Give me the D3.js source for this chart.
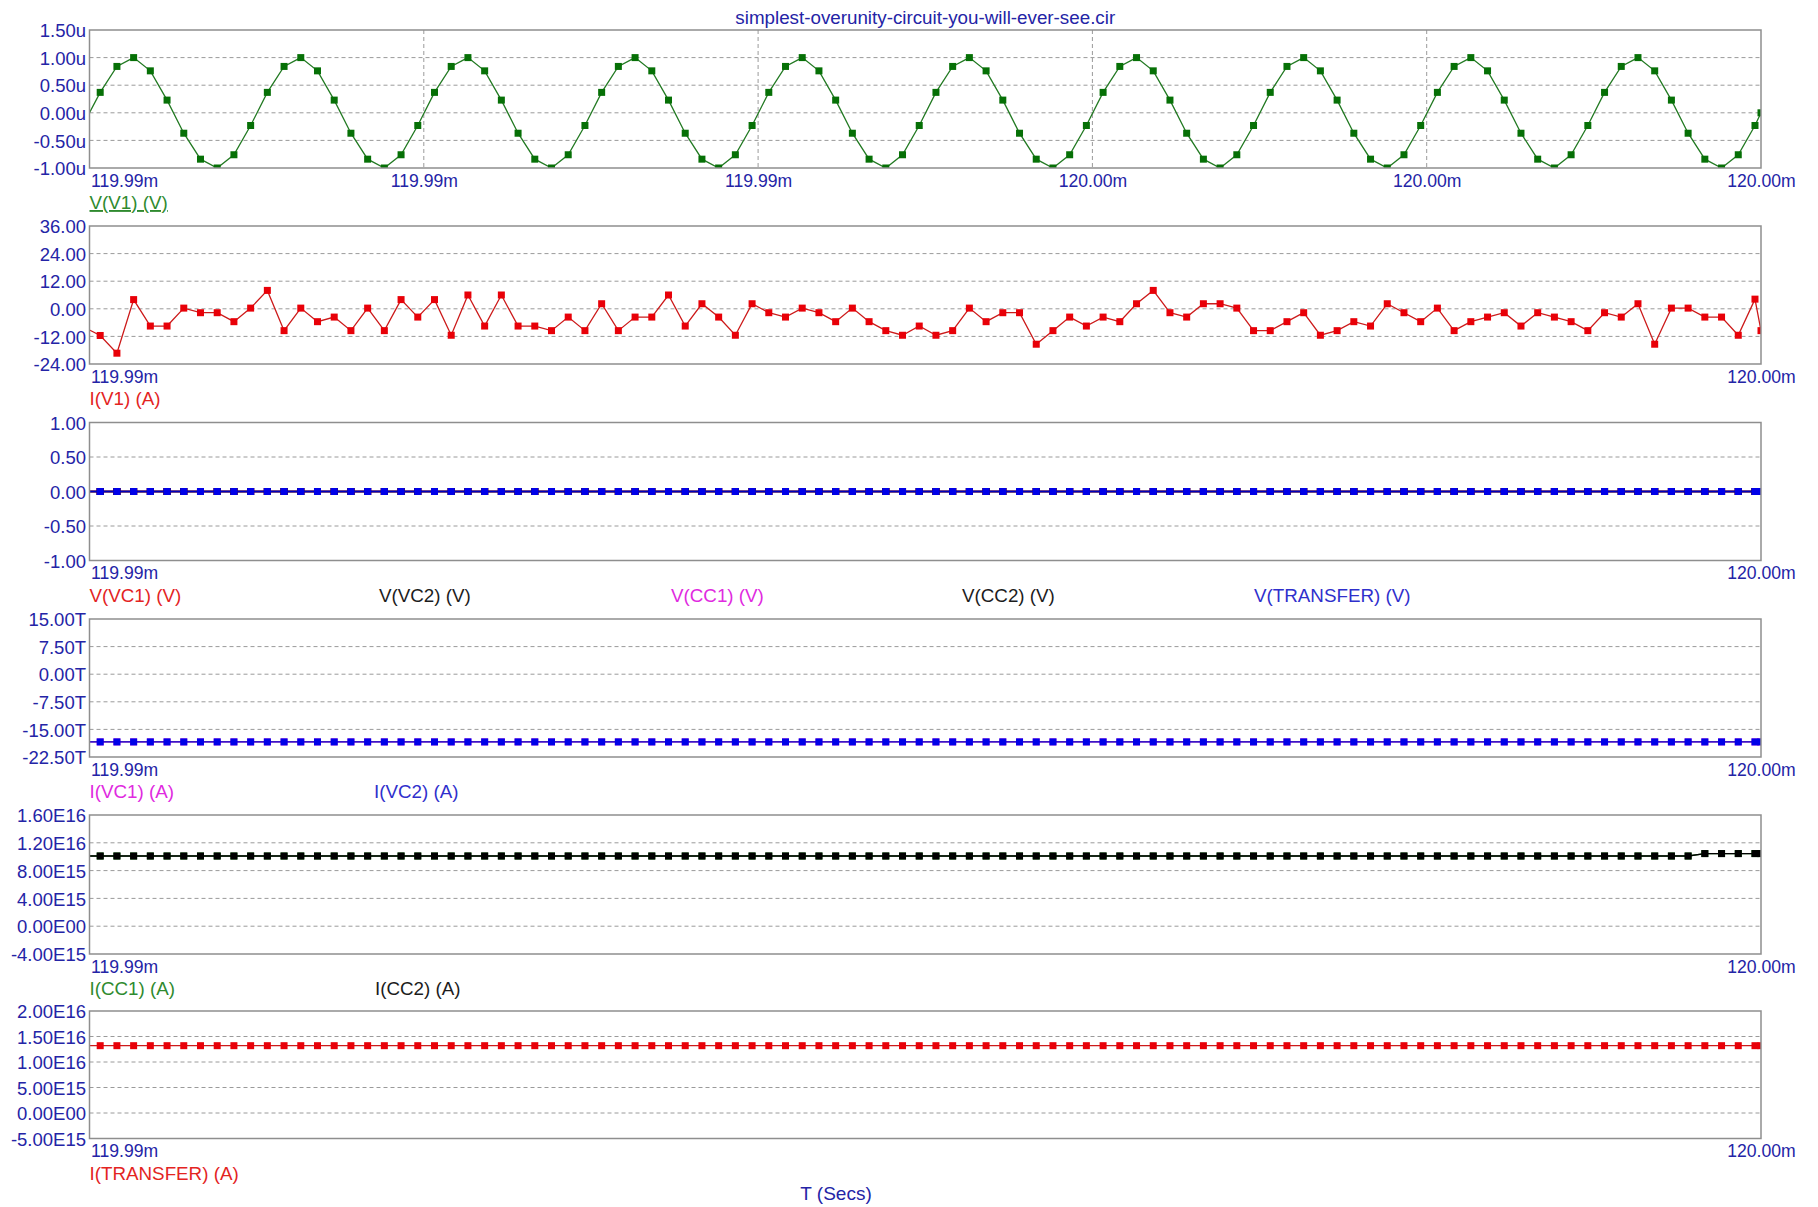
<!DOCTYPE html>
<html>
<head>
<meta charset="utf-8">
<script src="https://cdn.jsdelivr.net/npm/d3@7"></script>
<style>
  html, body { margin: 0; padding: 0; background: #fff; }
  svg { display: block; font-family: "Liberation Sans", Arial, sans-serif; }
</style>
</head>
<body>
<svg id="chart" width="1818" height="1207"></svg>
<script>
// ---------------------------------------------------------------
// Transient analysis window, 119.990 ms .. 120.000 ms
// ---------------------------------------------------------------
const chartTitle = "simplest-overunity-circuit-you-will-ever-see.cir";
const xAxisTitle = "T (Secs)";
const timeStartMs = 119.990;
const timeEndMs = 120.000;
const xTickTimesMs = [119.990, 119.992, 119.994, 119.996, 119.998, 120.000];

// Sample instants, in microseconds after 119.990 ms
const sampleTimesUs = [0,
  0.064, 0.164, 0.264, 0.364, 0.464, 0.564, 0.664, 0.764, 0.864, 0.964,
  1.064, 1.164, 1.264, 1.364, 1.464, 1.564, 1.664, 1.764, 1.864, 1.964,
  2.064, 2.164, 2.264, 2.364, 2.464, 2.564, 2.664, 2.764, 2.864, 2.964,
  3.064, 3.164, 3.264, 3.364, 3.464, 3.564, 3.664, 3.764, 3.864, 3.964,
  4.064, 4.164, 4.264, 4.364, 4.464, 4.564, 4.664, 4.764, 4.864, 4.964,
  5.064, 5.164, 5.264, 5.364, 5.464, 5.564, 5.664, 5.764, 5.864, 5.964,
  6.064, 6.164, 6.264, 6.364, 6.464, 6.564, 6.664, 6.764, 6.864, 6.964,
  7.064, 7.164, 7.264, 7.364, 7.464, 7.564, 7.664, 7.764, 7.864, 7.964,
  8.064, 8.164, 8.264, 8.364, 8.464, 8.564, 8.664, 8.764, 8.864, 8.964,
  9.064, 9.164, 9.264, 9.364, 9.464, 9.564, 9.664, 9.764, 9.864, 9.964,
  10];

// V(V1), microvolts
const vV1 = [0,
  0.37, 0.84, 1.00, 0.76, 0.23, -0.37, -0.84, -1.00, -0.76, -0.23,
  0.37, 0.84, 1.00, 0.76, 0.23, -0.37, -0.84, -1.00, -0.76, -0.23,
  0.37, 0.84, 1.00, 0.76, 0.23, -0.37, -0.84, -1.00, -0.76, -0.23,
  0.37, 0.84, 1.00, 0.76, 0.23, -0.37, -0.84, -1.00, -0.76, -0.23,
  0.37, 0.84, 1.00, 0.76, 0.23, -0.37, -0.84, -1.00, -0.76, -0.23,
  0.37, 0.84, 1.00, 0.76, 0.23, -0.37, -0.84, -1.00, -0.76, -0.23,
  0.37, 0.84, 1.00, 0.76, 0.23, -0.37, -0.84, -1.00, -0.76, -0.23,
  0.37, 0.84, 1.00, 0.76, 0.23, -0.37, -0.84, -1.00, -0.76, -0.23,
  0.37, 0.84, 1.00, 0.76, 0.23, -0.37, -0.84, -1.00, -0.76, -0.23,
  0.37, 0.84, 1.00, 0.76, 0.23, -0.37, -0.84, -1.00, -0.76, -0.23,
  0];

// I(V1), amperes
const iV1 = [-9.2,
  -11.6, -19.3, 4.0, -7.5, -7.5, 0.3, -1.7, -1.7, -5.6, 0.3,
  8.0, -9.5, 0.3, -5.6, -3.6, -9.5, 0.3, -9.5, 4.0, -3.6,
  4.0, -11.5, 6.0, -7.5, 6.0, -7.5, -7.5, -9.5, -3.6, -9.5,
  2.2, -9.5, -3.6, -3.6, 6.0, -7.5, 2.2, -3.6, -11.5, 2.2,
  -1.7, -3.6, 0.3, -1.7, -5.6, 0.3, -5.6, -9.5, -11.5, -7.5,
  -11.5, -9.5, 0.3, -5.6, -1.7, -1.7, -15.4, -9.5, -3.6, -7.5,
  -3.6, -5.6, 2.2, 8.0, -1.7, -3.6, 2.2, 2.2, 0.3, -9.5,
  -9.5, -5.6, -1.7, -11.5, -9.5, -5.6, -7.5, 2.2, -1.7, -5.6,
  0.3, -9.5, -5.6, -3.6, -1.7, -7.5, -1.7, -3.6, -5.6, -9.5,
  -1.7, -3.6, 2.2, -15.4, 0.3, 0.3, -3.6, -3.6, -11.5, 4.2,
  -9.5];

// Node voltages, volts
const vVC1 = [0,
  0,0,0,0,0,0,0,0,0,0, 0,0,0,0,0,0,0,0,0,0, 0,0,0,0,0,0,0,0,0,0, 0,0,0,0,0,0,0,0,0,0,
  0,0,0,0,0,0,0,0,0,0, 0,0,0,0,0,0,0,0,0,0, 0,0,0,0,0,0,0,0,0,0, 0,0,0,0,0,0,0,0,0,0,
  0,0,0,0,0,0,0,0,0,0, 0,0,0,0,0,0,0,0,0,0,
  0];
const vVC2 = [0,
  0,0,0,0,0,0,0,0,0,0, 0,0,0,0,0,0,0,0,0,0, 0,0,0,0,0,0,0,0,0,0, 0,0,0,0,0,0,0,0,0,0,
  0,0,0,0,0,0,0,0,0,0, 0,0,0,0,0,0,0,0,0,0, 0,0,0,0,0,0,0,0,0,0, 0,0,0,0,0,0,0,0,0,0,
  0,0,0,0,0,0,0,0,0,0, 0,0,0,0,0,0,0,0,0,0,
  0];
const vCC1 = [0,
  0,0,0,0,0,0,0,0,0,0, 0,0,0,0,0,0,0,0,0,0, 0,0,0,0,0,0,0,0,0,0, 0,0,0,0,0,0,0,0,0,0,
  0,0,0,0,0,0,0,0,0,0, 0,0,0,0,0,0,0,0,0,0, 0,0,0,0,0,0,0,0,0,0, 0,0,0,0,0,0,0,0,0,0,
  0,0,0,0,0,0,0,0,0,0, 0,0,0,0,0,0,0,0,0,0,
  0];
const vCC2 = [0,
  0,0,0,0,0,0,0,0,0,0, 0,0,0,0,0,0,0,0,0,0, 0,0,0,0,0,0,0,0,0,0, 0,0,0,0,0,0,0,0,0,0,
  0,0,0,0,0,0,0,0,0,0, 0,0,0,0,0,0,0,0,0,0, 0,0,0,0,0,0,0,0,0,0, 0,0,0,0,0,0,0,0,0,0,
  0,0,0,0,0,0,0,0,0,0, 0,0,0,0,0,0,0,0,0,0,
  0];
const vTransfer = [0,
  0,0,0,0,0,0,0,0,0,0, 0,0,0,0,0,0,0,0,0,0, 0,0,0,0,0,0,0,0,0,0, 0,0,0,0,0,0,0,0,0,0,
  0,0,0,0,0,0,0,0,0,0, 0,0,0,0,0,0,0,0,0,0, 0,0,0,0,0,0,0,0,0,0, 0,0,0,0,0,0,0,0,0,0,
  0,0,0,0,0,0,0,0,0,0, 0,0,0,0,0,0,0,0,0,0,
  0];

// Branch currents, amperes
const iVC1 = [-18.4e12,
  -18.4e12,-18.4e12,-18.4e12,-18.4e12,-18.4e12,-18.4e12,-18.4e12,-18.4e12,-18.4e12,-18.4e12,
  -18.4e12,-18.4e12,-18.4e12,-18.4e12,-18.4e12,-18.4e12,-18.4e12,-18.4e12,-18.4e12,-18.4e12,
  -18.4e12,-18.4e12,-18.4e12,-18.4e12,-18.4e12,-18.4e12,-18.4e12,-18.4e12,-18.4e12,-18.4e12,
  -18.4e12,-18.4e12,-18.4e12,-18.4e12,-18.4e12,-18.4e12,-18.4e12,-18.4e12,-18.4e12,-18.4e12,
  -18.4e12,-18.4e12,-18.4e12,-18.4e12,-18.4e12,-18.4e12,-18.4e12,-18.4e12,-18.4e12,-18.4e12,
  -18.4e12,-18.4e12,-18.4e12,-18.4e12,-18.4e12,-18.4e12,-18.4e12,-18.4e12,-18.4e12,-18.4e12,
  -18.4e12,-18.4e12,-18.4e12,-18.4e12,-18.4e12,-18.4e12,-18.4e12,-18.4e12,-18.4e12,-18.4e12,
  -18.4e12,-18.4e12,-18.4e12,-18.4e12,-18.4e12,-18.4e12,-18.4e12,-18.4e12,-18.4e12,-18.4e12,
  -18.4e12,-18.4e12,-18.4e12,-18.4e12,-18.4e12,-18.4e12,-18.4e12,-18.4e12,-18.4e12,-18.4e12,
  -18.4e12,-18.4e12,-18.4e12,-18.4e12,-18.4e12,-18.4e12,-18.4e12,-18.4e12,-18.4e12,-18.4e12,
  -18.4e12];
const iVC2 = [-18.4e12,
  -18.4e12,-18.4e12,-18.4e12,-18.4e12,-18.4e12,-18.4e12,-18.4e12,-18.4e12,-18.4e12,-18.4e12,
  -18.4e12,-18.4e12,-18.4e12,-18.4e12,-18.4e12,-18.4e12,-18.4e12,-18.4e12,-18.4e12,-18.4e12,
  -18.4e12,-18.4e12,-18.4e12,-18.4e12,-18.4e12,-18.4e12,-18.4e12,-18.4e12,-18.4e12,-18.4e12,
  -18.4e12,-18.4e12,-18.4e12,-18.4e12,-18.4e12,-18.4e12,-18.4e12,-18.4e12,-18.4e12,-18.4e12,
  -18.4e12,-18.4e12,-18.4e12,-18.4e12,-18.4e12,-18.4e12,-18.4e12,-18.4e12,-18.4e12,-18.4e12,
  -18.4e12,-18.4e12,-18.4e12,-18.4e12,-18.4e12,-18.4e12,-18.4e12,-18.4e12,-18.4e12,-18.4e12,
  -18.4e12,-18.4e12,-18.4e12,-18.4e12,-18.4e12,-18.4e12,-18.4e12,-18.4e12,-18.4e12,-18.4e12,
  -18.4e12,-18.4e12,-18.4e12,-18.4e12,-18.4e12,-18.4e12,-18.4e12,-18.4e12,-18.4e12,-18.4e12,
  -18.4e12,-18.4e12,-18.4e12,-18.4e12,-18.4e12,-18.4e12,-18.4e12,-18.4e12,-18.4e12,-18.4e12,
  -18.4e12,-18.4e12,-18.4e12,-18.4e12,-18.4e12,-18.4e12,-18.4e12,-18.4e12,-18.4e12,-18.4e12,
  -18.4e12];
const iCC1 = [1.01e16,
  1.01e16,1.01e16,1.01e16,1.01e16,1.01e16,1.01e16,1.01e16,1.01e16,1.01e16,1.01e16,
  1.01e16,1.01e16,1.01e16,1.01e16,1.01e16,1.01e16,1.01e16,1.01e16,1.01e16,1.01e16,
  1.01e16,1.01e16,1.01e16,1.01e16,1.01e16,1.01e16,1.01e16,1.01e16,1.01e16,1.01e16,
  1.01e16,1.01e16,1.01e16,1.01e16,1.01e16,1.01e16,1.01e16,1.01e16,1.01e16,1.01e16,
  1.01e16,1.01e16,1.01e16,1.01e16,1.01e16,1.01e16,1.01e16,1.01e16,1.01e16,1.01e16,
  1.01e16,1.01e16,1.01e16,1.01e16,1.01e16,1.01e16,1.01e16,1.01e16,1.01e16,1.01e16,
  1.01e16,1.01e16,1.01e16,1.01e16,1.01e16,1.01e16,1.01e16,1.01e16,1.01e16,1.01e16,
  1.01e16,1.01e16,1.01e16,1.01e16,1.01e16,1.01e16,1.01e16,1.01e16,1.01e16,1.01e16,
  1.01e16,1.01e16,1.01e16,1.01e16,1.01e16,1.01e16,1.01e16,1.01e16,1.01e16,1.01e16,
  1.01e16,1.01e16,1.01e16,1.01e16,1.01e16,1.01e16,1.045e16,1.045e16,1.045e16,1.045e16,
  1.045e16];
const iCC2 = [1.01e16,
  1.01e16,1.01e16,1.01e16,1.01e16,1.01e16,1.01e16,1.01e16,1.01e16,1.01e16,1.01e16,
  1.01e16,1.01e16,1.01e16,1.01e16,1.01e16,1.01e16,1.01e16,1.01e16,1.01e16,1.01e16,
  1.01e16,1.01e16,1.01e16,1.01e16,1.01e16,1.01e16,1.01e16,1.01e16,1.01e16,1.01e16,
  1.01e16,1.01e16,1.01e16,1.01e16,1.01e16,1.01e16,1.01e16,1.01e16,1.01e16,1.01e16,
  1.01e16,1.01e16,1.01e16,1.01e16,1.01e16,1.01e16,1.01e16,1.01e16,1.01e16,1.01e16,
  1.01e16,1.01e16,1.01e16,1.01e16,1.01e16,1.01e16,1.01e16,1.01e16,1.01e16,1.01e16,
  1.01e16,1.01e16,1.01e16,1.01e16,1.01e16,1.01e16,1.01e16,1.01e16,1.01e16,1.01e16,
  1.01e16,1.01e16,1.01e16,1.01e16,1.01e16,1.01e16,1.01e16,1.01e16,1.01e16,1.01e16,
  1.01e16,1.01e16,1.01e16,1.01e16,1.01e16,1.01e16,1.01e16,1.01e16,1.01e16,1.01e16,
  1.01e16,1.01e16,1.01e16,1.01e16,1.01e16,1.01e16,1.045e16,1.045e16,1.045e16,1.045e16,
  1.045e16];
const iTransfer = [1.32e16,
  1.32e16,1.32e16,1.32e16,1.32e16,1.32e16,1.32e16,1.32e16,1.32e16,1.32e16,1.32e16,
  1.32e16,1.32e16,1.32e16,1.32e16,1.32e16,1.32e16,1.32e16,1.32e16,1.32e16,1.32e16,
  1.32e16,1.32e16,1.32e16,1.32e16,1.32e16,1.32e16,1.32e16,1.32e16,1.32e16,1.32e16,
  1.32e16,1.32e16,1.32e16,1.32e16,1.32e16,1.32e16,1.32e16,1.32e16,1.32e16,1.32e16,
  1.32e16,1.32e16,1.32e16,1.32e16,1.32e16,1.32e16,1.32e16,1.32e16,1.32e16,1.32e16,
  1.32e16,1.32e16,1.32e16,1.32e16,1.32e16,1.32e16,1.32e16,1.32e16,1.32e16,1.32e16,
  1.32e16,1.32e16,1.32e16,1.32e16,1.32e16,1.32e16,1.32e16,1.32e16,1.32e16,1.32e16,
  1.32e16,1.32e16,1.32e16,1.32e16,1.32e16,1.32e16,1.32e16,1.32e16,1.32e16,1.32e16,
  1.32e16,1.32e16,1.32e16,1.32e16,1.32e16,1.32e16,1.32e16,1.32e16,1.32e16,1.32e16,
  1.32e16,1.32e16,1.32e16,1.32e16,1.32e16,1.32e16,1.32e16,1.32e16,1.32e16,1.32e16,
  1.32e16];

// Y-axis grid values and their printed labels, one pair per plot
const yTicksV1 = [1.5, 1.0, 0.5, 0, -0.5, -1.0];
const yLabelsV1 = ["1.50u", "1.00u", "0.50u", "0.00u", "-0.50u", "-1.00u"];
const yTicksIV1 = [36, 24, 12, 0, -12, -24];
const yLabelsIV1 = ["36.00", "24.00", "12.00", "0.00", "-12.00", "-24.00"];
const yTicksNodes = [1.0, 0.5, 0, -0.5, -1.0];
const yLabelsNodes = ["1.00", "0.50", "0.00", "-0.50", "-1.00"];
const yTicksIVC = [15e12, 7.5e12, 0, -7.5e12, -15e12, -22.5e12];
const yLabelsIVC = ["15.00T", "7.50T", "0.00T", "-7.50T", "-15.00T", "-22.50T"];
const yTicksICC = [1.6e16, 1.2e16, 8e15, 4e15, 0, -4e15];
const yLabelsICC = ["1.60E16", "1.20E16", "8.00E15", "4.00E15", "0.00E00", "-4.00E15"];
const yTicksTransfer = [2e16, 1.5e16, 1e16, 5e15, 0, -5e15];
const yLabelsTransfer = ["2.00E16", "1.50E16", "1.00E16", "5.00E15", "0.00E00", "-5.00E15"];

// ---------------------------------------------------------------
// Styling and layout
// ---------------------------------------------------------------
const C = {
  axisText: "#2424a6",
  border: "#8e8e8e",
  grid: "#9a9a9a",
  green: { line: "#237a23", mark: "#067006", label: "#2f8a2f" },
  red: { line: "#cc1a1a", mark: "#e80008", label: "#e3241f" },
  blue: { line: "#0000b8", mark: "#0000e8", label: "#2f2fcc" },
  black: { line: "#000000", mark: "#000000", label: "#1c1c1c" },
  magenta: { line: "#e020e0", mark: "#e020e0", label: "#e02ae0" }
};

const plotLeft = 89.5, plotRight = 1761;
const legendCols = [89.5, 379, 671, 962, 1254];

const panels = [
  { top: 30, bottom: 168, yTicks: yTicksV1, yLabels: yLabelsV1, allXLabels: true,
    traces: [{ name: "V(V1) (V)", values: vV1, color: C.green, col: 0, underline: true }] },
  { top: 226, bottom: 364, yTicks: yTicksIV1, yLabels: yLabelsIV1,
    traces: [{ name: "I(V1) (A)", values: iV1, color: C.red, col: 0 }] },
  { top: 422.5, bottom: 560.5, yTicks: yTicksNodes, yLabels: yLabelsNodes,
    traces: [
      { name: "V(VC1) (V)", values: vVC1, color: C.red, col: 0 },
      { name: "V(VC2) (V)", values: vVC2, color: C.black, col: 1 },
      { name: "V(CC1) (V)", values: vCC1, color: C.magenta, col: 2 },
      { name: "V(CC2) (V)", values: vCC2, color: C.black, col: 3 },
      { name: "V(TRANSFER) (V)", values: vTransfer, color: C.blue, col: 4 }
    ] },
  { top: 619, bottom: 757, yTicks: yTicksIVC, yLabels: yLabelsIVC,
    traces: [
      { name: "I(VC1) (A)", values: iVC1, color: C.magenta, col: 0 },
      { name: "I(VC2) (A)", values: iVC2, color: C.blue, col: 1, dx: -5 }
    ] },
  { top: 815, bottom: 954, yTicks: yTicksICC, yLabels: yLabelsICC,
    traces: [
      { name: "I(CC1) (A)", values: iCC1, color: C.green, col: 0 },
      { name: "I(CC2) (A)", values: iCC2, color: C.black, col: 1, dx: -4 }
    ] },
  { top: 1011, bottom: 1138.5, yTicks: yTicksTransfer, yLabels: yLabelsTransfer,
    traces: [{ name: "I(TRANSFER) (A)", values: iTransfer, color: C.red, col: 0 }] }
];

const svg = d3.select("#chart");
const x = d3.scaleLinear().domain([timeStartMs, timeEndMs]).range([plotLeft, plotRight]);
const times = sampleTimesUs.map(us => timeStartMs + us / 1000);
const fmtTime = t => d3.format(".2f")(t) + "m";
const markerSize = 7;

// Title
svg.append("text")
  .attr("x", (plotLeft + plotRight) / 2).attr("y", 24)
  .attr("text-anchor", "middle")
  .attr("fill", C.axisText).attr("font-size", 18.8)
  .text(chartTitle);

panels.forEach((p, pi) => {
  const g = svg.append("g");
  const y = d3.scaleLinear()
    .domain([d3.min(p.yTicks), d3.max(p.yTicks)])
    .range([p.bottom, p.top]);

  const clipId = "clip" + pi;
  svg.append("clipPath").attr("id", clipId)
    .append("rect")
    .attr("x", plotLeft).attr("y", p.top)
    .attr("width", plotRight - plotLeft).attr("height", p.bottom - p.top);

  // Horizontal dashed grid
  g.append("g").selectAll("line")
    .data(p.yTicks.filter(v => v !== d3.min(p.yTicks) && v !== d3.max(p.yTicks)))
    .join("line")
    .attr("x1", plotLeft).attr("x2", plotRight)
    .attr("y1", d => y(d)).attr("y2", d => y(d))
    .attr("stroke", C.grid).attr("stroke-width", 1)
    .attr("stroke-dasharray", "4,3");

  // Vertical dashed grid on the top plot
  if (p.allXLabels) {
    g.append("g").selectAll("line")
      .data(xTickTimesMs.slice(1, -1))
      .join("line")
      .attr("x1", d => x(d)).attr("x2", d => x(d))
      .attr("y1", p.top).attr("y2", p.bottom)
      .attr("stroke", C.grid).attr("stroke-width", 1)
      .attr("stroke-dasharray", "4,3");
  }

  // Y axis labels through a D3 axis
  const yAxis = d3.axisLeft(y)
    .tickValues(p.yTicks)
    .tickFormat((d, i) => p.yLabels[i])
    .tickSize(0).tickPadding(3);
  const ya = g.append("g").attr("transform", `translate(${plotLeft - 0.5},0)`).call(yAxis);
  ya.select(".domain").remove();
  ya.selectAll("text")
    .attr("fill", C.axisText)
    .attr("font-size", 18.5)
    .attr("font-family", '"Liberation Sans", Arial, sans-serif')
    .attr("dy", "0.36em");

  // X axis labels
  const xVals = p.allXLabels ? xTickTimesMs : [xTickTimesMs[0], xTickTimesMs[xTickTimesMs.length - 1]];
  const xAxis = d3.axisBottom(x).tickValues(xVals).tickFormat(fmtTime).tickSize(0).tickPadding(0);
  const xa = g.append("g").attr("transform", `translate(0,${p.bottom})`).call(xAxis);
  xa.select(".domain").remove();
  xa.selectAll("text")
    .attr("fill", C.axisText)
    .attr("font-size", 17.6)
    .attr("font-family", '"Liberation Sans", Arial, sans-serif')
    .attr("y", 18.7).attr("dy", null)
    .attr("text-anchor", (d, i) => i === 0 ? "start" : "middle")
    .attr("dx", (d, i) => i === 0 ? 1 : 0);

  // Traces
  const plot = g.append("g").attr("clip-path", `url(#${clipId})`);
  p.traces.forEach(tr => {
    const pts = tr.values.map((v, i) => [times[i], v]);
    plot.append("path")
      .datum(pts)
      .attr("fill", "none")
      .attr("stroke", tr.color.line)
      .attr("stroke-width", 1.3)
      .attr("d", d3.line().x(d => x(d[0])).y(d => y(d[1])));
    plot.append("g").selectAll("rect")
      .data(pts.slice(1))
      .join("rect")
      .attr("x", d => x(d[0]) - markerSize / 2)
      .attr("y", d => y(d[1]) - markerSize / 2)
      .attr("width", markerSize).attr("height", markerSize)
      .attr("fill", tr.color.mark);
  });

  // Frame
  g.append("rect")
    .attr("x", plotLeft).attr("y", p.top)
    .attr("width", plotRight - plotLeft).attr("height", p.bottom - p.top)
    .attr("fill", "none").attr("stroke", C.border).attr("stroke-width", 1.5);

  // Trace names under the plot
  p.traces.forEach(tr => {
    g.append("text")
      .attr("x", legendCols[tr.col] + (tr.dx || 0))
      .attr("y", p.bottom + 41)
      .attr("fill", tr.color.label)
      .attr("font-size", 18.8)
      .style("text-decoration", tr.underline ? "underline" : null)
      .text(tr.name);
  });
});

// X axis title
svg.append("text")
  .attr("x", 836).attr("y", 1200)
  .attr("text-anchor", "middle")
  .attr("fill", C.axisText).attr("font-size", 19)
  .text(xAxisTitle);
</script>
</body>
</html>
